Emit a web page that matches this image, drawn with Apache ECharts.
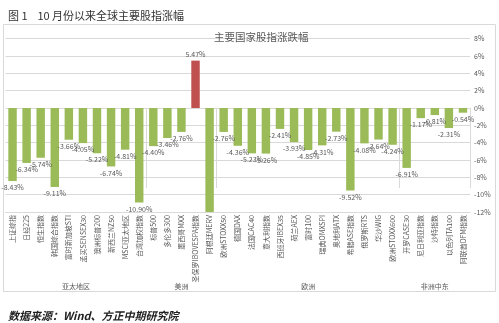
<!DOCTYPE html>
<html>
<head>
<meta charset="utf-8">
<script src="https://cdn.jsdelivr.net/npm/echarts@6/dist/echarts.min.js"></script>
<style>
html,body{margin:0;padding:0;background:#fff;}
#chart{width:499px;height:323px;}
</style>
</head>
<body>
<div id="chart"></div>
<script>
const categories = [
  '上证综指','日经225','恒生指数','韩国综合指数','富时新加坡STI','孟买SENSEX30','澳洲标普200','新西兰NZ50','MSCI亚太地区','台湾加权指数',
  '标普500','多伦多300','墨西哥MXX','圣保罗IBOVESPA指数','阿根廷MERV',
  '欧洲STOXX50','德国DAX','法国CAC40','意大利指数','西班牙IBEX35','荷兰AEX','富时100','瑞典OMXSPI','奥地利ATX','希腊ASE指数','俄罗斯RTS','华沙WIG','欧洲STOXX600',
  '开罗CASE30','尼日利亚指数','沙特指数','以色列TA100','阿联酋DFM指数'
];
const values = [
  -8.43,-6.34,-5.74,-9.11,-3.66,-4.05,-5.22,-6.74,-4.81,-10.90,
  -4.40,-3.46,-2.76,5.47,-12.6,
  -2.76,-4.36,-5.23,-5.26,-2.41,-3.93,-4.85,-4.31,-2.73,-9.52,-4.08,-3.64,-4.24,
  -6.91,-1.17,-0.81,-2.31,-0.54
];
const groupNames = ['亚太地区','美洲','欧洲','非洲中东'];
const groupSizes = [10,5,13,5];
const yMin = -12, yMax = 8, yStep = 2;

const boundaries = [];
const centers = [];
let acc = 0;
groupSizes.forEach(s => { centers.push(acc + s / 2); acc += s; boundaries.push(acc); });

const gray = '#595959';
const lineGray = '#D9D9D9';
const cjk = '"Noto Sans CJK SC", "Noto Sans", sans-serif';

const chart = echarts.init(document.getElementById('chart'), null, {renderer: 'canvas'});
chart.setOption({
  animation: false,
  textStyle: {fontFamily: cjk},
  title: [
    {text: '图 1    10 月份以来全球主要股指涨幅', left: 3, top: 5,
     textStyle: {fontSize: 11, fontWeight: 'normal', color: '#333', fontFamily: cjk}},
    {text: '主要国家股指涨跌幅', left: 209, top: 27,
     textStyle: {fontSize: 10.5, fontWeight: 'normal', color: gray, fontFamily: cjk}},
    {text: '数据来源：Wind、方正中期研究院', left: 3, top: 305,
     textStyle: {fontSize: 11, fontWeight: 'bold', fontStyle: 'italic', color: '#222', fontFamily: cjk}}
  ],
  grid: [
    {left: 5.5, right: 29, top: 38.7, bottom: 111, outerBoundsMode: 'none', containLabel: false},
    {left: 3.5, right: 3.5, top: 24.5, bottom: 31.5, show: true, borderColor: lineGray, borderWidth: 1,
     backgroundColor: 'transparent', outerBoundsMode: 'none', containLabel: false, z: 0}
  ],
  xAxis: [
    {type: 'category', gridIndex: 0, data: categories, position: 'bottom',
     axisLine: {show: true, onZero: false, lineStyle: {color: lineGray}},
     axisTick: {show: false},
     axisLabel: {interval: 0, rotate: 90, fontSize: 7, color: gray, margin: 3}},
    {type: 'value', gridIndex: 0, min: 0, max: categories.length, position: 'bottom',
     axisLine: {show: false},
     splitLine: {show: false},
     axisTick: {show: true, customValues: boundaries, length: 80, inside: false, lineStyle: {color: lineGray}},
     axisLabel: {show: true, customValues: centers, margin: 71, fontSize: 7, color: gray,
       formatter: v => groupNames[centers.indexOf(v)] || ''}},
    {type: 'value', gridIndex: 1, show: false}
  ],
  yAxis: [
    {type: 'value', gridIndex: 0, position: 'right', min: yMin, max: yMax, interval: yStep,
     axisLine: {show: false}, axisTick: {show: false},
     splitLine: {lineStyle: {color: lineGray}},
     axisLabel: {formatter: '{value}%', fontSize: 7, color: gray, margin: 4}},
    {type: 'value', gridIndex: 1, show: false}
  ],
  series: [{
    type: 'bar',
    xAxisIndex: 0, yAxisIndex: 0,
    barWidth: '60%',
    clip: true,
    data: values.map(v => ({
      value: v,
      itemStyle: {color: v >= 0 ? '#C0504D' : '#9BBB59'},
      label: {show: v >= yMin}
    })),
    label: {show: true, position: 'outside', distance: 3, fontSize: 7, color: gray,
      formatter: p => p.value.toFixed(2) + '%'}
  }]
});
</script>
</body>
</html>
